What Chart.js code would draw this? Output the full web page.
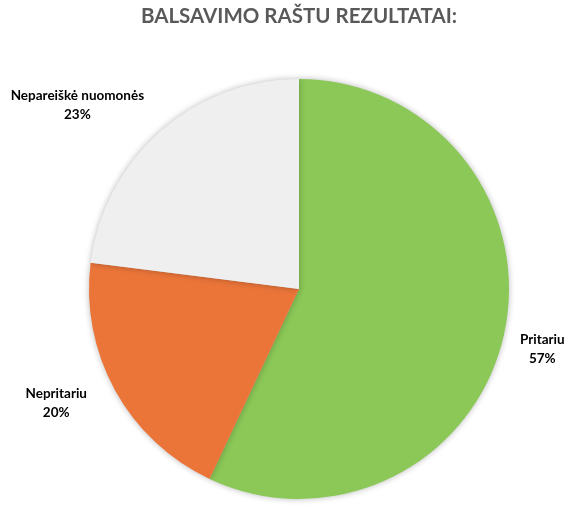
<!DOCTYPE html>
<html><head><meta charset="utf-8">
<script src="https://cdn.jsdelivr.net/npm/chart.js@4"></script>
<style>html,body{margin:0;padding:0;background:#fff}#wrap{width:580px;height:514px}</style>
</head><body><div id="wrap"><canvas id="c" width="580" height="514"></canvas></div>
<script>
const categories = ["Pritariu", "Nepritariu", "Nepareiškė nuomonės"];
const values = [57, 20, 23];
const colors = ["#8BC857", "#EB7539", "#EFEFEF"];
const titleText = "BALSAVIMO RAŠTU REZULTATAI:";

const labelNudge = [[16, 14], [-28, 12.5], [-16, -26]];

const shadowPlugin = {
  id: 'shadow',
  beforeDatasetDraw(chart) {
    const ctx = chart.ctx;
    ctx.save();
    ctx.shadowColor = 'rgba(0,0,0,0.28)';
    ctx.shadowBlur = 6;
    ctx.shadowOffsetX = 0;
    ctx.shadowOffsetY = 0;
  },
  afterDatasetDraw(chart) { chart.ctx.restore(); }
};

const labelPlugin = {
  id: 'outLabels',
  afterDatasetsDraw(chart) {
    const ctx = chart.ctx;
    const meta = chart.getDatasetMeta(0);
    const total = values.reduce((a, b) => a + b, 0);
    ctx.save();
    ctx.font = 'bold 13.5px Lato';
    ctx.fillStyle = '#000';
    ctx.textBaseline = 'middle';
    meta.data.forEach((arc, i) => {
      const p = arc.getProps(['x', 'y', 'startAngle', 'endAngle', 'outerRadius'], true);
      const mid = (p.startAngle + p.endAngle) / 2;
      const r = p.outerRadius;
      const cx = Math.cos(mid), cy = Math.sin(mid);
      const x = p.x + cx * r + labelNudge[i][0];
      const y = p.y + cy * r + labelNudge[i][1];
      const pct = Math.round(values[i] / total * 100) + '%';
      const lines = [categories[i], pct];
      let w = 0;
      lines.forEach(l => { w = Math.max(w, ctx.measureText(l).width); });
      const centerX = cx >= 0 ? x + w / 2 : x - w / 2;
      ctx.textAlign = 'center';
      ctx.fillText(lines[0], centerX, y - 9.5);
      ctx.fillText(lines[1], centerX, y + 9.5);
    });
    ctx.restore();
  }
};

new Chart(document.getElementById('c'), {
  type: 'pie',
  data: {
    labels: categories,
    datasets: [{ data: values, backgroundColor: colors, borderWidth: 0, hoverOffset: 0 }]
  },
  options: {
    responsive: false,
    animation: false,
    devicePixelRatio: 1,
    layout: { padding: { left: 18, right: 0, top: 0, bottom: 15 } },
    plugins: {
      legend: { display: false },
      tooltip: { enabled: false },
      title: {
        display: true,
        text: titleText,
        color: '#595959',
        font: { family: 'Lato', size: 20.5, weight: 'bold', lineHeight: 1.2 },
        padding: { top: 4, bottom: 50.4 }
      }
    }
  },
  plugins: [shadowPlugin, labelPlugin]
});
</script></body></html>
